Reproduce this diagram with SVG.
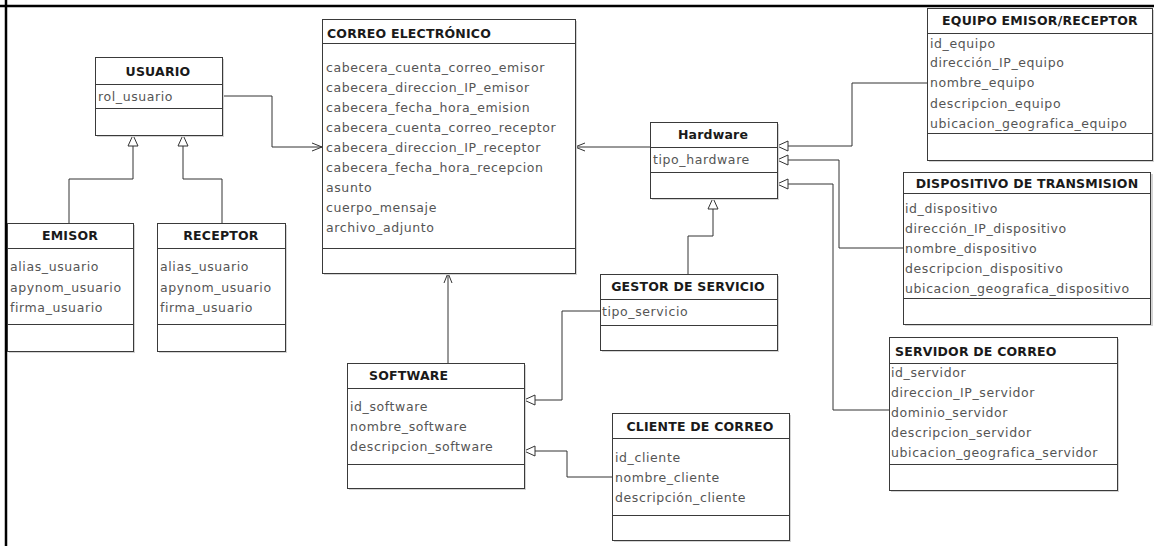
<svg xmlns="http://www.w3.org/2000/svg" width="1154" height="546" viewBox="0 0 1154 546">
<style>
.box{fill:#fff;stroke:#3a3a3a;stroke-width:1}
.sh{fill:#d4d4d4}
.div{stroke:#3a3a3a;stroke-width:1}
.t{font-family:"DejaVu Sans",sans-serif;font-weight:bold;font-size:12.5px;fill:#1a1a1a;letter-spacing:0.2px}
.tc{text-anchor:middle}
.a{font-family:"DejaVu Sans",sans-serif;font-size:12.5px;fill:#555;letter-spacing:0.6px}
.conn{fill:none;stroke:#333;stroke-width:1}
.inh{marker-end:url(#tri)}
.asc{marker-end:url(#open)}
</style>
<defs>
<marker id="tri" markerUnits="userSpaceOnUse" markerWidth="13" markerHeight="12" refX="11" refY="5" orient="auto" overflow="visible">
<path d="M0,0 L11,5 L0,10 z" fill="#fff" stroke="#333" stroke-width="1"/>
</marker>
<marker id="open" markerUnits="userSpaceOnUse" markerWidth="11" markerHeight="10" refX="10" refY="4" orient="auto" overflow="visible">
<path d="M0,0 L10,4 L0,8" fill="none" stroke="#333" stroke-width="1"/>
</marker>
</defs>
<rect width="1154" height="546" fill="#fff"/>
<line x1="0" y1="6" x2="1154" y2="6" stroke="#000" stroke-width="2.5"/>
<line x1="6" y1="0" x2="6" y2="546" stroke="#000" stroke-width="2.5"/>

<g id="connectors">
<path class="conn inh" d="M69,223 V179 H133 V135"/>
<path class="conn inh" d="M222,223 V179 H183 V135"/>
<path class="conn asc" d="M222,96 H272 V147 H322"/>
<path class="conn asc" d="M650,147 H575"/>
<path class="conn inh" d="M927,83 H852 V146 H777"/>
<path class="conn inh" d="M903,248 H839 V160 H777"/>
<path class="conn inh" d="M889,410 H833 V184 H777"/>
<path class="conn inh" d="M688,274 V236 H713 V198"/>
<path class="conn asc" d="M448,363 V273"/>
<path class="conn inh" d="M600,311 H562 V400 H524"/>
<path class="conn inh" d="M612,477 H567 V451 H524"/>
</g>

<g id="usuario">
<rect class="sh" x="97" y="59" width="127" height="78"/>
<rect class="box" x="95.5" y="57.5" width="127" height="78"/>
<line class="div" x1="95.5" y1="84.5" x2="222.5" y2="84.5"/>
<line class="div" x1="95.5" y1="108.5" x2="222.5" y2="108.5"/>
<text class="t tc" x="158" y="76">USUARIO</text>
<text class="a" x="98" y="101">rol_usuario</text>
</g>

<g id="emisor">
<rect class="sh" x="9" y="225" width="126" height="128"/>
<rect class="box" x="7.5" y="223.5" width="126" height="128"/>
<line class="div" x1="7.5" y1="248.5" x2="133.5" y2="248.5"/>
<line class="div" x1="7.5" y1="324.5" x2="133.5" y2="324.5"/>
<text class="t tc" x="70" y="240">EMISOR</text>
<text class="a" x="10" y="271">alias_usuario</text>
<text class="a" x="10" y="292">apynom_usuario</text>
<text class="a" x="10" y="312">firma_usuario</text>
</g>

<g id="receptor">
<rect class="sh" x="159" y="225" width="128" height="128"/>
<rect class="box" x="157.5" y="223.5" width="128" height="128"/>
<line class="div" x1="157.5" y1="248.5" x2="285.5" y2="248.5"/>
<line class="div" x1="157.5" y1="324.5" x2="285.5" y2="324.5"/>
<text class="t tc" x="221" y="240">RECEPTOR</text>
<text class="a" x="160" y="271">alias_usuario</text>
<text class="a" x="160" y="292">apynom_usuario</text>
<text class="a" x="160" y="312">firma_usuario</text>
</g>

<g id="correo">
<rect class="sh" x="324" y="21" width="253" height="254"/>
<rect class="box" x="322.5" y="19.5" width="253" height="254"/>
<line class="div" x1="322.5" y1="43.5" x2="575.5" y2="43.5"/>
<line class="div" x1="322.5" y1="248.5" x2="575.5" y2="248.5"/>
<text class="t" x="327" y="38">CORREO ELECTRÓNICO</text>
<text class="a" x="326" y="72">cabecera_cuenta_correo_emisor</text>
<text class="a" x="326" y="92">cabecera_direccion_IP_emisor</text>
<text class="a" x="326" y="112">cabecera_fecha_hora_emision</text>
<text class="a" x="326" y="132">cabecera_cuenta_correo_receptor</text>
<text class="a" x="326" y="152">cabecera_direccion_IP_receptor</text>
<text class="a" x="326" y="172">cabecera_fecha_hora_recepcion</text>
<text class="a" x="326" y="192">asunto</text>
<text class="a" x="326" y="212">cuerpo_mensaje</text>
<text class="a" x="326" y="232">archivo_adjunto</text>
</g>

<g id="hardware">
<rect class="sh" x="652" y="124" width="127" height="76"/>
<rect class="box" x="650.5" y="122.5" width="127" height="76"/>
<line class="div" x1="650.5" y1="147.5" x2="777.5" y2="147.5"/>
<line class="div" x1="650.5" y1="172.5" x2="777.5" y2="172.5"/>
<text class="t tc" x="713" y="139">Hardware</text>
<text class="a" x="653" y="164">tipo_hardware</text>
</g>

<g id="gestor">
<rect class="sh" x="602" y="276" width="177" height="76"/>
<rect class="box" x="600.5" y="274.5" width="177" height="76"/>
<line class="div" x1="600.5" y1="299.5" x2="777.5" y2="299.5"/>
<line class="div" x1="600.5" y1="325.5" x2="777.5" y2="325.5"/>
<text class="t tc" x="688" y="291">GESTOR DE SERVICIO</text>
<text class="a" x="602" y="316">tipo_servicio</text>
</g>

<g id="software">
<rect class="sh" x="349" y="365" width="177" height="125"/>
<rect class="box" x="347.5" y="363.5" width="177" height="125"/>
<line class="div" x1="347.5" y1="388.5" x2="524.5" y2="388.5"/>
<line class="div" x1="347.5" y1="464.5" x2="524.5" y2="464.5"/>
<text class="t" x="369" y="380">SOFTWARE</text>
<text class="a" x="350" y="411">id_software</text>
<text class="a" x="350" y="431">nombre_software</text>
<text class="a" x="350" y="451">descripcion_software</text>
</g>

<g id="cliente">
<rect class="sh" x="614" y="415" width="177" height="127"/>
<rect class="box" x="612.5" y="413.5" width="177" height="127"/>
<line class="div" x1="612.5" y1="438.5" x2="789.5" y2="438.5"/>
<line class="div" x1="612.5" y1="515.5" x2="789.5" y2="515.5"/>
<text class="t tc" x="700" y="431">CLIENTE DE CORREO</text>
<text class="a" x="615" y="462">id_cliente</text>
<text class="a" x="615" y="482">nombre_cliente</text>
<text class="a" x="615" y="502">descripción_cliente</text>
</g>

<g id="equipo">
<rect class="sh" x="929" y="10" width="226" height="152"/>
<rect class="box" x="927.5" y="8.5" width="225" height="152"/>
<line class="div" x1="927.5" y1="33.5" x2="1152.5" y2="33.5"/>
<line class="div" x1="927.5" y1="133.5" x2="1152.5" y2="133.5"/>
<text class="t tc" x="1040" y="25">EQUIPO EMISOR/RECEPTOR</text>
<text class="a" x="930" y="48">id_equipo</text>
<text class="a" x="930" y="67">dirección_IP_equipo</text>
<text class="a" x="930" y="87">nombre_equipo</text>
<text class="a" x="930" y="108">descripcion_equipo</text>
<text class="a" x="930" y="128">ubicacion_geografica_equipo</text>
</g>

<g id="dispositivo">
<rect class="sh" x="905" y="174" width="248" height="152"/>
<rect class="box" x="903.5" y="172.5" width="247" height="152"/>
<line class="div" x1="903.5" y1="193.5" x2="1150.5" y2="193.5"/>
<line class="div" x1="903.5" y1="298.5" x2="1150.5" y2="298.5"/>
<text class="t tc" x="1027" y="188">DISPOSITIVO DE TRANSMISION</text>
<text class="a" x="905" y="213">id_dispositivo</text>
<text class="a" x="905" y="233">dirección_IP_dispositivo</text>
<text class="a" x="905" y="253">nombre_dispositivo</text>
<text class="a" x="905" y="273">descripcion_dispositivo</text>
<text class="a" x="905" y="293">ubicacion_geografica_dispositivo</text>
</g>

<g id="servidor">
<rect class="sh" x="891" y="339" width="228" height="153"/>
<rect class="box" x="889.5" y="337.5" width="228" height="153"/>
<line class="div" x1="889.5" y1="363.5" x2="1117.5" y2="363.5"/>
<line class="div" x1="889.5" y1="464.5" x2="1117.5" y2="464.5"/>
<text class="t" x="895" y="356">SERVIDOR DE CORREO</text>
<text class="a" x="891" y="377">id_servidor</text>
<text class="a" x="891" y="397">direccion_IP_servidor</text>
<text class="a" x="891" y="417">dominio_servidor</text>
<text class="a" x="891" y="437">descripcion_servidor</text>
<text class="a" x="891" y="457">ubicacion_geografica_servidor</text>
</g>
</svg>
